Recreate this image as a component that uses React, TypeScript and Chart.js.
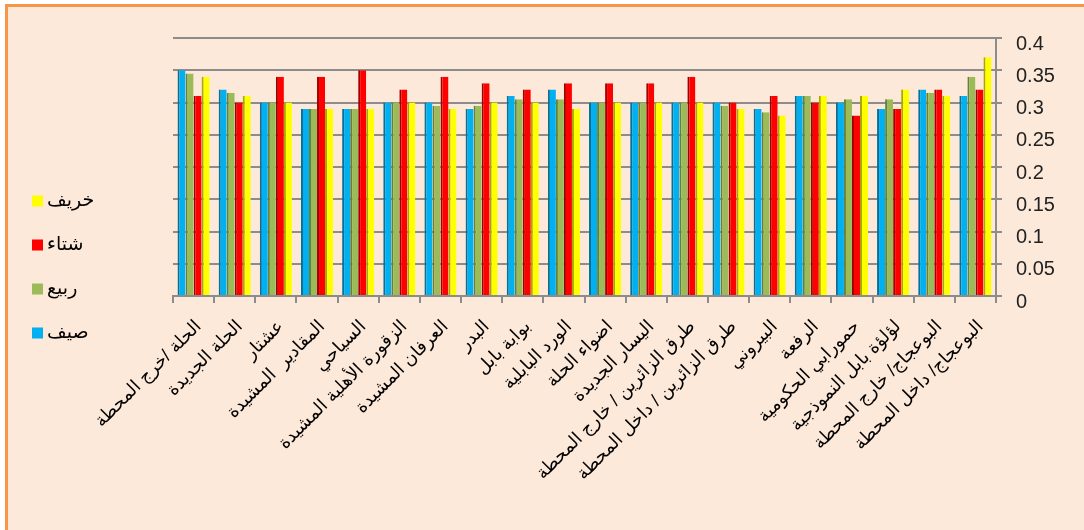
import React, { useEffect, useRef } from "react";
import { Chart, registerables } from "chart.js";

Chart.register(...registerables);

const categories: string[] = [
  "الحلة /خرج المحطة",
  "الحلة الجديدة",
  "عشتار",
  "المقادير  المشيدة",
  "السياحي",
  "الزقورة الأهلية المشيدة",
  "العرفان المشيدة",
  "البدر",
  "بوابة بابل",
  "الورد البابلية",
  "اضواء الحلة",
  "اليسار الجديدة",
  "طرق الزائرين / خارج المحطة",
  "طرق الزائرين / داخل المحطة",
  "البيروني",
  "الرفعة",
  "حمورابي الحكومية",
  "لؤلؤة بابل النموذجية",
  "البوعجاج/ خارج المحطة",
  "البوعجاج/ داخل المحطة",
];

const seriesNames: string[] = ["صيف", "ربيع", "شتاء", "خريف"];

const summer: number[] = [0.35, 0.32, 0.3, 0.29, 0.29, 0.3, 0.3, 0.29, 0.31, 0.32, 0.3, 0.3, 0.3, 0.3, 0.29, 0.31, 0.3, 0.29, 0.32, 0.31];
const spring: number[] = [0.345, 0.315, 0.3, 0.29, 0.29, 0.3, 0.295, 0.295, 0.305, 0.305, 0.3, 0.3, 0.3, 0.295, 0.285, 0.31, 0.305, 0.305, 0.315, 0.34];
const winter: number[] = [0.31, 0.3, 0.34, 0.34, 0.35, 0.32, 0.34, 0.33, 0.32, 0.33, 0.33, 0.33, 0.34, 0.3, 0.31, 0.3, 0.28, 0.29, 0.32, 0.32];
const autumn: number[] = [0.34, 0.31, 0.3, 0.29, 0.29, 0.3, 0.29, 0.3, 0.3, 0.29, 0.3, 0.3, 0.3, 0.29, 0.28, 0.31, 0.31, 0.32, 0.31, 0.37];

const seriesColors: string[] = ["#00B0F0", "#9BBB59", "#FF0000", "#FFFF00"];
const seriesEdges: string[] = ["#0A6F94", "#687F3A", "#A00000", "#A8A800"];

const yMin = 0;
const yMax = 0.4;
const yStep = 0.05;

const W = 1084;
const H = 530;
const AREA_LEFT = 173;
const AREA_RIGHT = 996;
const AREA_TOP = 38;
const AREA_BOTTOM = 296;
const GRID = "#8C8C8C";
const FONT = "'Liberation Sans', Arial, 'DejaVu Sans', sans-serif";

const legendPlugin = {
  id: "leftLegend",
  afterDraw(chart: any) {
    const ctx = chart.ctx;
    const ys = [333, 289, 245, 201];
    ctx.save();
    chart.data.datasets.forEach((ds: any, i: number) => {
      const y = ys[i];
      ctx.fillStyle = ds.backgroundColor;
      ctx.fillRect(32, y - 5.5, 11, 11);
      ctx.fillStyle = "#000";
      ctx.font = `19px ${FONT}`;
      ctx.textAlign = "left";
      ctx.textBaseline = "middle";
      ctx.fillText(ds.label, 47, y);
    });
    ctx.restore();
  },
};

export default function App() {
  const canvasRef = useRef<HTMLCanvasElement | null>(null);

  useEffect(() => {
    const canvas = canvasRef.current;
    if (!canvas) return;
    const values = [summer, spring, winter, autumn];
    const chart = new Chart(canvas, {
      type: "bar",
      data: {
        labels: categories,
        datasets: seriesNames.map((name, i) => ({
          label: name,
          data: values[i],
          backgroundColor: seriesColors[i],
          borderColor: seriesEdges[i],
          borderWidth: { left: 2, top: 0, right: 0, bottom: 0 },
          borderSkipped: false,
          categoryPercentage: 0.78,
          barPercentage: 1.0,
        })),
      },
      options: {
        responsive: false,
        animation: false,
        layout: {
          padding: { left: AREA_LEFT, top: AREA_TOP, right: 0, bottom: 0 },
        },
        plugins: {
          legend: { display: false },
          tooltip: { enabled: false },
          title: { display: false },
        },
        scales: {
          x: {
            position: "bottom",
            grid: {
              display: true,
              drawOnChartArea: false,
              drawTicks: true,
              tickLength: 7,
              color: GRID,
              lineWidth: 2,
              offset: true,
            },
            border: { display: true, color: GRID, width: 2 },
            ticks: {
              autoSkip: false,
              maxRotation: 45,
              minRotation: 45,
              padding: 13,
              labelOffset: 5,
              color: "#000",
              font: { family: FONT, size: 18 },
            },
            afterFit(scale: any) {
              scale.height = H - AREA_BOTTOM;
            },
          },
          y: {
            position: "right",
            min: yMin,
            max: yMax,
            ticks: {
              stepSize: yStep,
              padding: 14,
              labelOffset: 6,
              color: "#222",
              font: { family: FONT, size: 20 },
              callback: (v: any) => String(Number(Number(v).toFixed(2))),
            },
            grid: {
              color: GRID,
              lineWidth: 2,
              drawTicks: true,
              tickLength: 6,
            },
            border: { display: true, color: GRID, width: 2 },
            afterFit(scale: any) {
              scale.width = W - AREA_RIGHT;
            },
          },
        },
      },
      plugins: [legendPlugin],
    });
    return () => chart.destroy();
  }, []);

  return (
    <div style={{ position: "fixed", left: 0, top: 0, width: W, height: H, background: "#ffffff", overflow: "hidden" }}>
      <div
        style={{
          position: "absolute",
          left: 5,
          top: 4,
          width: W + 20,
          height: H + 20,
          borderLeft: "3px solid #F79646",
          borderTop: "3px solid #F79646",
          background: "#FDE9D9",
        }}
      />
      <canvas ref={canvasRef} width={W} height={H} style={{ position: "absolute", left: 0, top: 0, width: W, height: H }} />
    </div>
  );
}
